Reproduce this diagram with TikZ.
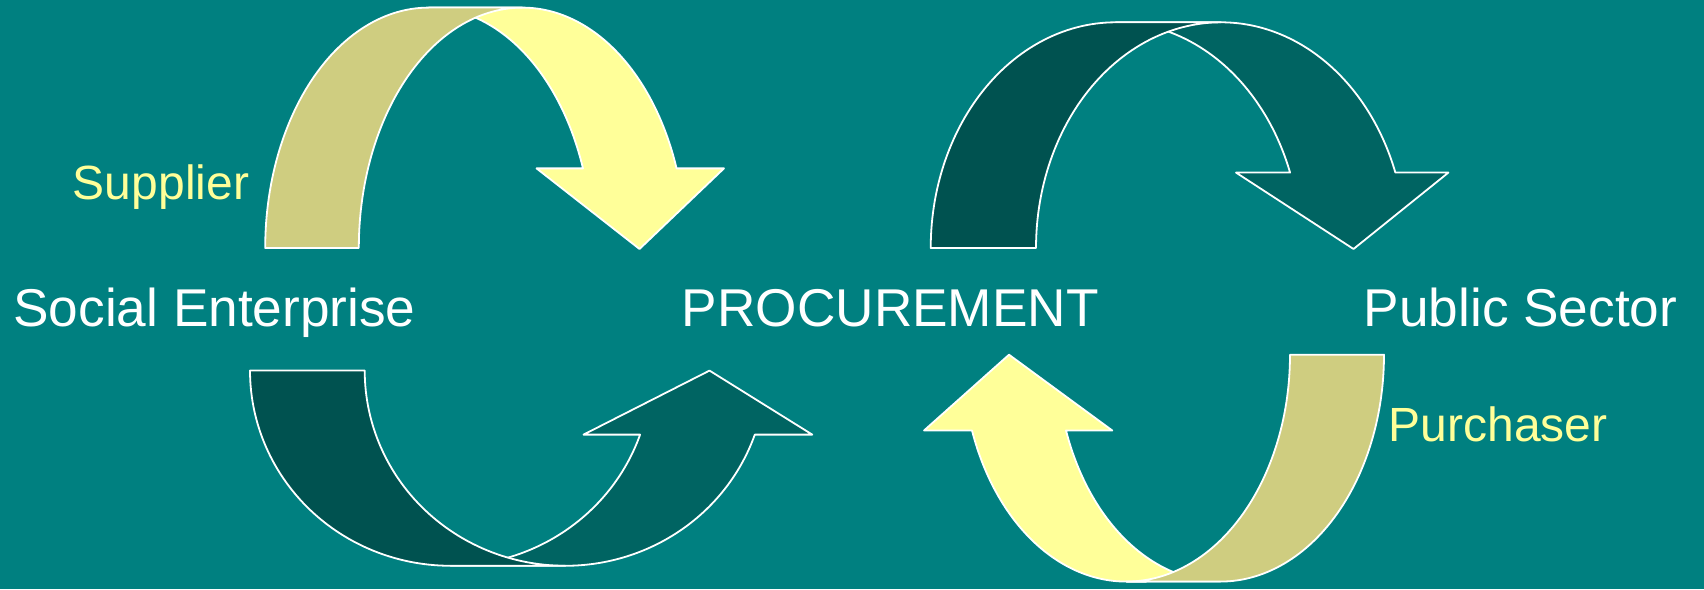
\documentclass[tikz,border=0pt]{standalone}
\usepackage{fontspec}
\setmainfont{Liberation Sans}
\definecolor{bgteal}{RGB}{0,128,128}
\definecolor{khaki}{RGB}{207,205,128}
\definecolor{paleyellow}{RGB}{255,255,153}
\definecolor{darkback}{RGB}{0,82,80}
\definecolor{darkfront}{RGB}{0,100,98}
\newcommand\CArrow[2]{%
 \filldraw[#2] ({\aX+\aSX*(\aWR+\aWR*cos(\aPhi))},{\aY+\aSY*\aH*sin(\aPhi)})
  -- plot[domain=\aPhi:90,samples=60,variable=\t] ({\aX+\aSX*(\aWR+\aWR*cos(\t))},{\aY+\aSY*\aH*sin(\t)})
  -- plot[domain=90:\aPhi,samples=60,variable=\t] ({\aX+\aSX*(\aWR+\aTh+\aWR*cos(\t))},{\aY+\aSY*\aH*sin(\t)})
  -- ({\aX+\aSX*\aRW},{\aY+\aSY*\aH*sin(\aPhi)})
  -- ({\aX+\aSX*\aTX},{\aY+\aSY*\aTY})
  -- ({\aX+\aSX*\aLW},{\aY+\aSY*\aH*sin(\aPhi)}) -- cycle;
 \filldraw[#1] (\aX,\aY)
  -- plot[domain=180:90,samples=60,variable=\t] ({\aX+\aSX*(\aWR+\aWR*cos(\t))},{\aY+\aSY*\aH*sin(\t)})
  -- plot[domain=90:180,samples=60,variable=\t] ({\aX+\aSX*(\aWR+\aTh+\aWR*cos(\t))},{\aY+\aSY*\aH*sin(\t)})
  -- cycle;
}
\tikzset{
  band/.style={draw=white, line width=1.8pt, line join=round},
  whitelabel/.style={anchor=base, inner sep=0pt, text=white, font=\fontsize{53.2}{62}\selectfont},
  yellowlabel/.style={anchor=base, inner sep=0pt, text=paleyellow, font=\fontsize{48}{56}\selectfont}
}
\begin{document}
\begin{tikzpicture}[x=1pt,y=1pt]
\useasboundingbox (0,0) rectangle (1704,589);
\fill[bgteal] (0,0) rectangle (1704,589);

% top-left arrow (Supplier side)
\def\aX{265.2}\def\aY{341}\def\aSX{(1)}\def\aSY{(1)}
\def\aTh{93.6}\def\aWR{163.5}\def\aH{240.4}\def\aPhi{19.34}
\def\aLW{271.3}\def\aRW{458.8}\def\aTX{374.3}\def\aTY{(-1)}
\CArrow{band, fill=khaki}{band, fill=paleyellow}

% top-right arrow
\def\aX{930.7}\def\aY{341}\def\aSX{(1)}\def\aSY{(1)}
\def\aTh{105.3}\def\aWR{185}\def\aH{225.7}\def\aPhi{19.52}
\def\aLW{305.3}\def\aRW{517.7}\def\aTX{422.8}\def\aTY{(-1)}
\CArrow{band, fill=darkback}{band, fill=darkfront}

% bottom-left arrow
\def\aX{250}\def\aY{218.4}\def\aSX{(1)}\def\aSY{(-1)}
\def\aTh{114.7}\def\aWR{200.6}\def\aH{195.2}\def\aPhi{19.15}
\def\aLW{333.5}\def\aRW{562.3}\def\aTX{459.5}\def\aTY{(0)}
\CArrow{band, fill=darkback}{band, fill=darkfront}

% bottom-right arrow (Purchaser side)
\def\aX{1384}\def\aY{234.3}\def\aSX{(-1)}\def\aSY{(-1)}
\def\aTh{94}\def\aWR{163.7}\def\aH{226.9}\def\aPhi{19.52}
\def\aLW{271.7}\def\aRW{460}\def\aTX{375}\def\aTY{(0)}
\CArrow{band, fill=khaki}{band, fill=paleyellow}

\node[whitelabel] (social) at (214.5,262) {Social Enterprise};
\node[whitelabel] (procurement) at (890.3,262) {PROCUREMENT};
\node[whitelabel] (public) at (1520.5,262) {Public Sector};
\node[yellowlabel] (supplier) at (161,389) {Supplier};
\node[yellowlabel] (purchaser) at (1498,147.3) {Purchaser};
\end{tikzpicture}
\end{document}
